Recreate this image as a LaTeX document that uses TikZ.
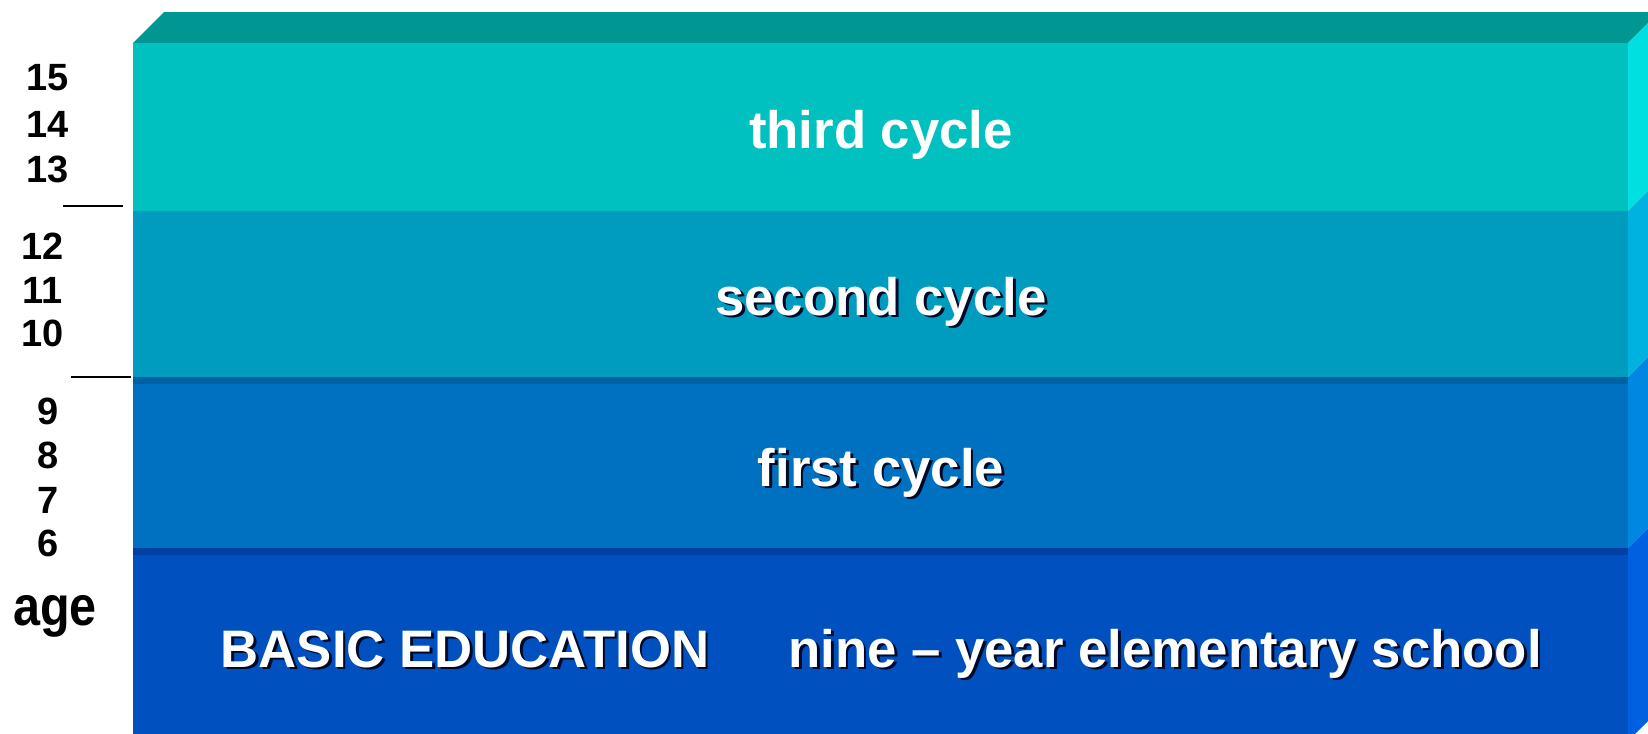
\documentclass[tikz,border=0pt]{standalone}
\usepackage{fontspec}
\setmainfont{Liberation Sans}
\definecolor{topface}{RGB}{0,150,145}
\definecolor{thirdfront}{RGB}{0,192,192}
\definecolor{thirdside}{RGB}{0,224,224}
\definecolor{secondfront}{RGB}{0,156,192}
\definecolor{secondside}{RGB}{0,178,224}
\definecolor{firstfront}{RGB}{0,112,192}
\definecolor{firstside}{RGB}{0,136,224}
\definecolor{firstedge}{RGB}{0,96,164}
\definecolor{basicfront}{RGB}{0,80,192}
\definecolor{basicside}{RGB}{0,96,224}
\definecolor{basicedge}{RGB}{0,64,162}
\definecolor{txtshadow}{RGB}{0,10,40}
\newcommand{\shadowtxt}[1]{\rlap{\kern0.8pt\raisebox{-0.8pt}{\color{txtshadow}#1}}#1}
\begin{document}
\begin{tikzpicture}[x=0.01cm,y=-0.01cm]
\tikzstyle{every node}+=[inner sep=0pt]
\tikzstyle{agenum}=[font=\fontsize{10.8}{12}\selectfont\bfseries]
\tikzstyle{cyclelabel}=[font=\fontsize{15}{18}\selectfont\bfseries, text=white, anchor=base]
\tikzstyle{tickline}=[black, line width=0.5pt]
\useasboundingbox (0,0) rectangle (1648,733);
\clip (0,0) rectangle (1648,733);
\fill [topface] (133,43) -- (164,12) -- (1659,12) -- (1628,43) -- cycle;
\fill [thirdfront] (133,43) rectangle (1628,211);
\fill [thirdside] (1628,43) -- (1659,12) -- (1659,180) -- (1628,211) -- cycle;
\fill [secondfront] (133,211) rectangle (1628,377);
\fill [secondside] (1628,211) -- (1659,180) -- (1659,346) -- (1628,377) -- cycle;
\fill [firstfront] (133,377) rectangle (1628,548);
\fill [firstedge] (133,377) rectangle (1628,384);
\fill [firstside] (1628,377) -- (1659,346) -- (1659,517) -- (1628,548) -- cycle;
\fill [basicfront] (133,548) rectangle (1628,741);
\fill [basicedge] (133,548) rectangle (1628,555);
\fill [basicside] (1628,548) -- (1659,517) -- (1659,710) -- (1628,741) -- cycle;
\node [cyclelabel] (third) at (881,148) {third cycle};
\node [cyclelabel] (second) at (881,315) {\shadowtxt{second cycle}};
\node [cyclelabel] (first) at (881,486) {\shadowtxt{first cycle}};
\node [cyclelabel] (basic) at (465,667) {\shadowtxt{BASIC EDUCATION}};
\node [cyclelabel] (nineyear) at (1165,667) {\shadowtxt{nine \textendash\ year elementary school}};
\node [agenum] (a15) at (48,78) {15};
\node [agenum] (a14) at (48,124) {14};
\node [agenum] (a13) at (48,169) {13};
\node [agenum] (a12) at (43,246) {12};
\node [agenum] (a11) at (43,290) {11};
\node [agenum] (a10) at (43,333) {10};
\node [agenum] (a9) at (48,411) {9};
\node [agenum] (a8) at (48,455) {8};
\node [agenum] (a7) at (48,500) {7};
\node [agenum] (a6) at (48,543) {6};
\node [font=\fontsize{13.8}{16}\selectfont\bfseries, anchor=base] (age) at (55,625) {\scalebox{1}[1.15]{age}};
\draw [tickline] (63,206) -- (123,206);
\draw [tickline] (71,377) -- (131,377);
\end{tikzpicture}
\end{document}
